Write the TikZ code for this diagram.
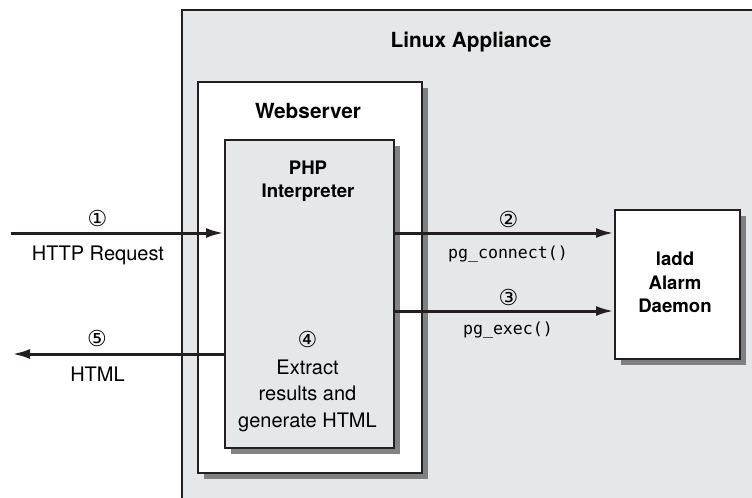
\documentclass[tikz,border=0pt]{standalone}
\usepackage{fontspec}
\setmainfont{TeX Gyre Heros}
\setmonofont{DejaVu Sans Mono}
\newfontfamily\numfont{DejaVu Sans}
\usepackage{tikz}
\usetikzlibrary{arrows.meta,positioning,calc,shadows}
\definecolor{Ink}{HTML}{231F20}
\definecolor{PanelGray}{HTML}{E6E7E8}
\definecolor{ShadowGray}{HTML}{6D6E70}
\tikzset{
 panel/.style={draw=Ink, line width=1pt, inner sep=0pt, anchor=north west,
   drop shadow={shadow xshift=3pt, shadow yshift=-3pt, fill=ShadowGray, opacity=0.85}},
 whitepanel/.style={panel, fill=white},
 graypanel/.style={panel, fill=PanelGray},
 heading/.style={font=\bfseries\fontsize{10.4}{12}\selectfont, inner sep=0pt, anchor=base},
 subheading/.style={font=\bfseries\fontsize{9.3}{11.9}\selectfont, align=center, inner sep=0pt, anchor=base},
 caption/.style={font=\fontsize{10}{13.5}\selectfont, align=center, inner sep=0pt, anchor=base},
 callname/.style={font=\ttfamily\fontsize{8.3}{10}\selectfont, inner sep=0pt, anchor=base},
 stepnum/.style={font=\numfont\fontsize{11}{12}\selectfont, inner sep=0pt},
 flow/.style={-{Latex[length=9pt,width=5pt]}, line width=1.5pt, draw=Ink}
}
\begin{document}
\begin{tikzpicture}[x=0.5pt,y=-0.5pt]
\useasboundingbox (0,0) rectangle (752,498);
\clip (0,0) rectangle (752,498);
% boxes
\node[draw=Ink, line width=1pt, fill=PanelGray, anchor=north west, minimum width=310pt, minimum height=260pt] (appliance) at (181,9) {};
\node[whitepanel, minimum width=112pt, minimum height=195.5pt] (webserver) at (197,81) {};
\node[graypanel, minimum width=84.5pt, minimum height=154pt] (php) at (224,139) {};
\node[whitepanel, minimum width=62.5pt, minimum height=74.5pt] (daemon) at (614,209) {};
% titles
\node[heading] (appTitle) at (471,47) {Linux Appliance};
\node[heading] (webTitle) at (308,119) {Webserver};
\node[subheading] (phpTitle) at (308,198) {PHP\\Interpreter};
\node[subheading] (daemonTitle) at (675,313) {ladd\\Alarm\\Daemon};
% flows
\coordinate (reqStart) at (11,233);
\coordinate (execRow) at (0,311);
\coordinate (htmlEnd) at (12,354);
\draw[flow] (reqStart) -- (reqStart -| php.west);
\draw[flow] (php.east |- reqStart) -- (daemon.west |- reqStart);
\draw[flow] (php.east |- execRow) -- (daemon.west |- execRow);
\draw[flow] (htmlEnd -| php.west) -- (htmlEnd);
% labels
\node[stepnum] (n1) at (97.5,218.5) {①};
\node[caption] (reqText) at (98,260) {HTTP Request};
\node[stepnum] (n2) at (508.5,219.5) {②};
\node[callname] (connText) at (508,258) {pg\_connect()};
\node[stepnum] (n3) at (508.5,297.5) {③};
\node[callname] (execText) at (508,335) {pg\_exec()};
\node[stepnum] (n4) at (307.5,339.5) {④};
\node[caption] (extractText) at (307.5,428) {Extract\\results and\\generate HTML};
\node[stepnum] (n5) at (97,338.5) {⑤};
\node[caption] (htmlText) at (97.5,381) {HTML};
\end{tikzpicture}
\end{document}
